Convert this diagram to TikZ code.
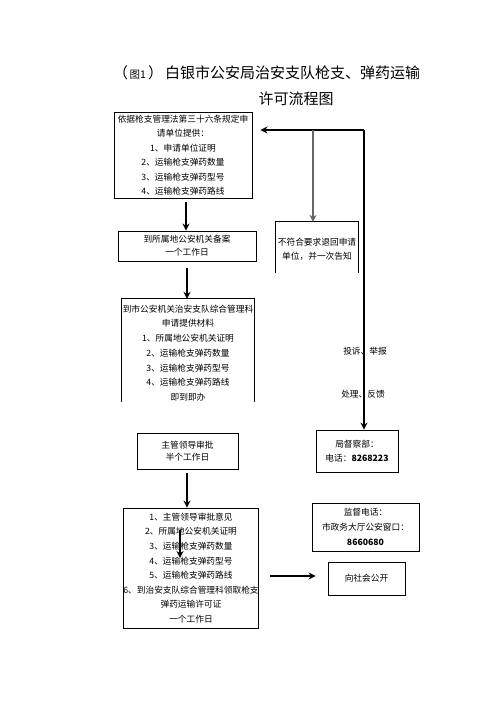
\documentclass[tikz,border=0pt]{standalone}
\usepackage{fontspec}
\setmainfont{Noto Sans CJK SC}
\usetikzlibrary{arrows.meta}
\begin{document}
\begin{tikzpicture}[x=1pt,y=-1pt,
  box/.style={draw,line width=0.9pt,rectangle,inner sep=0pt,align=center,font=\fontsize{8.7}{14.5}\selectfont},
  openbox/.style={draw=none,rectangle,inner sep=0pt,align=center,font=\fontsize{8.7}{14.5}\selectfont},
  side/.style={line width=0.9pt},
  arr/.style={line width=1.2pt,-{Stealth[length=7pt,width=7pt]}},
  plain/.style={line width=1.2pt},
  lbl/.style={font=\fontsize{8.7}{10}\selectfont,inner sep=0pt}
]
\useasboundingbox (0,0) rectangle (496,702);
\fill[white] (0,0) rectangle (496,702);

% title
\node[anchor=west,inner sep=0pt,font=\fontsize{15}{15}\selectfont] (t1) at (113,73)
  {（\kern1.5pt{\fontsize{10.5}{11}\selectfont 图1}\kern2pt）\kern2pt白银市公安局治安支队枪支、弹药运输};
\node[inner sep=0pt,font=\fontsize{15}{15}\selectfont] (t2) at (296,99) {许可流程图};

% boxes
\node[box,minimum width=138pt,minimum height=86pt] (b1) at (183,155)
  {依据枪支管理法第三十六条规定申\\请单位提供：\\1、申请单位证明\\2、运输枪支弹药数量\\3、运输枪支弹药型号\\4、运输枪支弹药路线};
\node[box,minimum width=138pt,minimum height=30pt,font=\fontsize{8.7}{13}\selectfont] (b2) at (187,246)
  {到所属地公安机关备案\\一个工作日};
\node[openbox,minimum width=82pt,minimum height=51pt,font=\fontsize{8.7}{14}\selectfont] (b3) at (317,247.5) {};
\node[inner sep=0pt,align=center,font=\fontsize{8.7}{14}\selectfont] (b3t) at (317,249)
  {不符合要求退回申请\\单位，并一次告知};
\draw[side] (b3.south west) -- (b3.north west) -- (b3.north east) -- (b3.south east);

\node[openbox,minimum width=132pt,minimum height=103pt] (b4) at (188,350.5) {};
\node[inner sep=0pt,align=center,font=\fontsize{8.7}{14.7}\selectfont] (b4t) at (188,353)
  {到市公安机关治安支队综合管理科\\申请提供材料\\1、所属地公安机关证明\\2、运输枪支弹药数量\\3、运输枪支弹药型号\\4、运输枪支弹药路线\\即到即办};
\draw[side] (b4.south west) -- (b4.north west) -- (b4.north east) -- (b4.south east);

\node[box,minimum width=101pt,minimum height=36pt,font=\fontsize{8.7}{12.5}\selectfont] (b5) at (187.5,451)
  {主管领导审批\\半个工作日};
\node[box,minimum width=134pt,minimum height=120pt,font=\fontsize{8.7}{14.6}\selectfont] (b6) at (191,568)
  {1、主管领导审批意见\\2、所属地公安机关证明\\3、运输枪支弹药数量\\4、运输枪支弹药型号\\5、运输枪支弹药路线\\6、到治安支队综合管理科领取枪支\\弹药运输许可证\\一个工作日};
\node[box,minimum width=82pt,minimum height=42pt,font=\fontsize{8.7}{14}\selectfont] (b7) at (357,451)
  {局督察部：\\电话：\textbf{8268223}};
\node[box,minimum width=107pt,minimum height=48pt,font=\fontsize{8.7}{15}\selectfont] (b8) at (365.5,527)
  {监督电话：\\市政务大厅公安窗口：\\\textbf{8660680}};
\node[box,minimum width=77pt,minimum height=33pt] (b9) at (366.5,578.5)
  {向社会公开};

% labels
\node[lbl] (l1) at (365,351) {投诉、举报};
\node[lbl] (l2) at (363,394) {处理、反馈};

% connectors
\coordinate (c1) at (364,130);
\coordinate (c2) at (313,130);
\draw[arr] (c1) -- ([xshift=8pt]b1.east |- c1);
\draw[arr] (c1) -- (c1 |- b7.north);
\draw[arr,draw=black!60,fill=black!60] (c2) -- (c2 |- b3.north);

\draw[arr] ([yshift=-4pt]b1.south -| 186,0) -- (b2.north -| 186,0);
\draw[arr] ([yshift=-7pt]b2.south -| 187,0) -- (b4.north -| 187,0);
\draw[arr] ([yshift=-4pt]b5.south -| 187,0) -- (b6.north -| 187,0);

\coordinate (s1) at (180,530);
\coordinate (s2) at (180,558);
\draw[arr] (s1) -- (s2);

\coordinate (r1) at (270,576);
\draw[arr] (r1) -- ([xshift=-12pt]b9.west |- r1);
\end{tikzpicture}
\end{document}
